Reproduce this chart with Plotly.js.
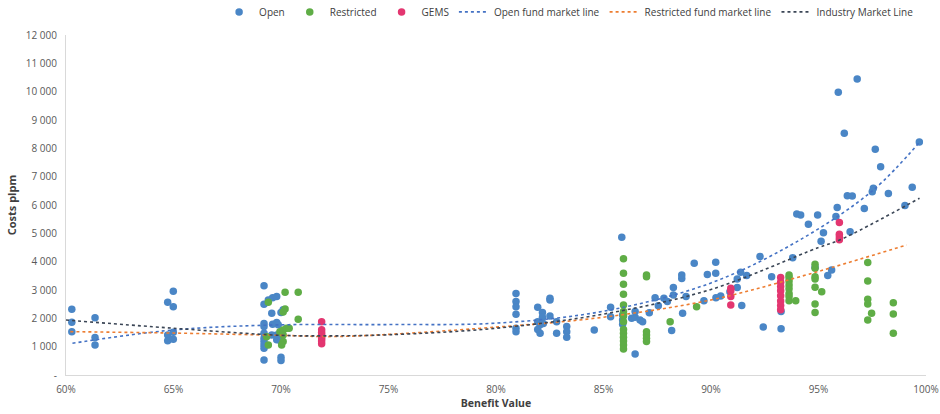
<!DOCTYPE html>
<html><head><meta charset="utf-8">
<script src="https://cdn.plot.ly/plotly-3.0.1.min.js"></script>
<style>html,body{margin:0;padding:0;background:#fff}#chart{width:940px;height:414px}</style>
</head><body><div id="chart"></div>
<script>
// ---- Data ----
const openBV = [0.6027,0.6027,0.6027,0.6135,0.6135,0.6135,0.6473,0.6473,0.6473,0.6499,0.6499,0.6499,0.6499,
 0.6921,0.6921,0.6921,0.6921,0.6921,0.6921,0.6921,0.6921,0.6921,0.6921,0.6941,0.6961,0.6961,0.6957,0.6957,
 0.6980,0.6980,0.6980,0.6980,0.6987,0.7000,0.7000,0.7000,0.7000,0.7000,0.7010,
 0.8093,0.8093,0.8093,0.8093,0.8093,0.8093,0.8194,0.8194,0.8194,0.8205,0.8205,0.8216,0.8216,0.8220,
 0.8251,0.8251,0.8251,0.8282,0.8282,0.8329,0.8329,0.8329,0.8457,0.8533,0.8533,0.8585,0.8589,0.8589,0.8589,
 0.8631,0.8647,0.8647,0.8647,0.8670,0.8682,0.8713,0.8740,0.8755,0.8781,0.8797,0.8817,0.8825,0.8825,
 0.8864,0.8864,0.8868,0.8884,0.8922,0.8967,0.8983,0.9022,0.9022,0.9023,0.9045,0.9088,0.9122,0.9122,
 0.9138,0.9166,0.9143,0.9228,0.9282,0.9243,0.9326,0.9326,0.9380,0.9399,0.9417,0.9453,0.9496,0.9484,
 0.9512,0.9523,0.9543,0.9561,0.9581,0.9587,0.9592,0.9620,0.9634,0.9647,0.9657,0.9680,0.9713,0.9750,
 0.9755,0.9764,0.9789,0.9825,0.9902,0.9936,0.9969];
const openCost = [2320,1860,1530,2020,1320,1060,2570,1410,1210,2960,2410,1510,1260,
 3150,2500,1820,1710,1470,1300,1180,1060,940,530,2650,2730,1790,2180,1410,
 2770,1850,1410,1240,1770,2210,1300,1180,630,510,2300,
 2880,2590,2410,2140,1650,1530,2390,1880,1610,1770,1470,2210,2040,1820,
 2650,2710,2080,1880,1470,1710,1530,1330,1590,2390,2060,4860,2120,1940,1790,
 2000,2040,2240,740,1940,1880,2200,2730,2440,2710,2590,1570,2820,3090,
 3410,3530,2180,2770,3940,2620,3550,3980,3590,2730,2790,2940,3390,3090,
 3630,3510,2450,4180,3470,1690,1630,2240,4140,5680,5650,5320,5650,3800,
 4720,5020,3510,3710,5590,5910,9980,8530,6330,5060,6320,10450,5880,6470,
 6590,7970,7350,6410,5980,6630,8220];

const restrictedBV = [0.6933,0.6941,0.6941,0.7019,0.7019,0.7080,0.7080,0.6995,0.7010,0.7010,0.7010,0.7010,
 0.7003,0.7026,0.7038,
 0.8593,0.8593,0.8593,0.8593,0.8593,0.8593,0.8593,0.8593,0.8593,0.8593,0.8593,0.8593,0.8593,0.8593,
 0.8700,0.8700,0.8700,0.8700,0.8700,0.8700,0.8810,0.8933,
 0.9363,0.9363,0.9363,0.9363,0.9363,0.9363,0.9363,0.9363,0.9394,
 0.9484,0.9484,0.9484,0.9484,0.9484,0.9484,0.9484,0.9515,
 0.9729,0.9729,0.9729,0.9729,0.9729,0.9747,0.9848,0.9848,0.9848];
const restrictedCost = [1350,1060,2570,2920,2330,2920,1970,1530,1590,1410,1180,2220,
 1060,1650,1650,
 4100,3590,3200,2850,2470,2240,2080,1880,1610,1470,1330,1200,1060,920,
 3530,3470,1530,1410,1300,1180,1880,2410,
 3530,3440,3320,3180,3040,2880,2770,2620,2620,
 3910,3770,3470,3390,3100,2510,2210,2940,
 3970,3320,2670,2510,1940,2180,2550,2150,1470];

const gemsBV = [0.7189,0.7189,0.7189,0.7189,0.7189,0.7189,0.7189,0.7189,
 0.9092,0.9092,0.9092,0.9092,
 0.9324,0.9324,0.9324,0.9324,0.9324,0.9324,0.9324,0.9324,
 0.9597,0.9597,0.9597,0.9597];
const gemsCost = [1880,1600,1500,1420,1350,1280,1200,1100,
 3060,2970,2770,2470,
 3440,3270,3120,2970,2800,2610,2450,2300,
 5380,4970,4870,4770];

// Market lines (read along the dotted trendlines)
const openLineBV   = [0.603,0.65,0.70,0.75,0.80,0.85,0.90,0.9414,0.9755,0.997];
const openLineCost = [1120,1590,1770,1780,1830,2250,3250,4770,6530,8220];
const restrictedLineBV   = [0.602,0.65,0.70,0.727,0.80,0.85,0.90,0.9414,0.991];
const restrictedLineCost = [1530,1480,1400,1360,1690,2040,2650,3470,4590];
const industryLineBV   = [0.600,0.65,0.70,0.72,0.75,0.80,0.85,0.90,0.95,0.960,0.997];
const industryLineCost = [1940,1650,1400,1380,1420,1650,2150,3020,4500,4770,6240];

const yTickVals = [0,1000,2000,3000,4000,5000,6000,7000,8000,9000,10000,11000,12000];
const yTickText = ['-','1 000','2 000','3 000','4 000','5 000','6 000','7 000','8 000','9 000','10 000','11 000','12 000'];
const xTickVals = [0.60,0.65,0.70,0.75,0.80,0.85,0.90,0.95,1.00];
const xTickText = ['60%','65%','70%','75%','80%','85%','90%','95%','100%'];

// ---- Chart ----
const mk = (c) => ({color:c, size:7.5, line:{width:0}});
const traces = [
  {type:'scatter', mode:'markers', name:'Open', x:openBV, y:openCost, marker:mk('#4a86c6')},
  {type:'scatter', mode:'markers', name:'Restricted', x:restrictedBV, y:restrictedCost, marker:mk('#5fad46')},
  {type:'scatter', mode:'markers', name:'GEMS', x:gemsBV, y:gemsCost, marker:mk('#e33670')},
  {type:'scatter', mode:'lines', name:'Open fund market line', x:openLineBV, y:openLineCost,
    line:{color:'#4472c4', width:1.6, dash:'dot', shape:'spline'}},
  {type:'scatter', mode:'lines', name:'Restricted fund market line', x:restrictedLineBV, y:restrictedLineCost,
    line:{color:'#ed7d31', width:1.6, dash:'dot', shape:'spline'}},
  {type:'scatter', mode:'lines', name:'Industry Market Line', x:industryLineBV, y:industryLineCost,
    line:{color:'#3b4656', width:1.6, dash:'dot', shape:'spline'}}
];
const font = {family:'"Open Sans", "Noto Sans", sans-serif', size:10, color:'#595959'};
const layout = {
  width:940, height:414,
  margin:{l:66, r:14, t:35, b:39, autoexpand:false},
  paper_bgcolor:'#fff', plot_bgcolor:'#fff',
  font:font,
  showlegend:true,
  legend:{orientation:'h', x:0.585, xanchor:'center', y:1.068, yanchor:'middle',
    font:{family:font.family, size:10, color:'#404040'}, itemwidth:30, tracegroupgap:0},
  xaxis:{range:[0.6,1.0], tickvals:xTickVals, ticktext:xTickText, showgrid:false, zeroline:false,
    showline:true, linecolor:'#d9d9d9', linewidth:1, ticks:'', ticklen:0, ticklabelstandoff:5,
    title:{text:'<b>Benefit Value</b>', font:{size:10.5, color:'#404040'}, standoff:4}},
  yaxis:{range:[0,12000], tickvals:yTickVals, ticktext:yTickText, showgrid:false, zeroline:false,
    showline:true, linecolor:'#d9d9d9', linewidth:1, ticks:'', ticklen:0, ticklabelstandoff:6,
    title:{text:'<b>Costs plpm</b>', font:{size:11, color:'#404040'}, standoff:6}}
};
Plotly.newPlot('chart', traces, layout, {displayModeBar:false, staticPlot:true});
</script></body></html>
